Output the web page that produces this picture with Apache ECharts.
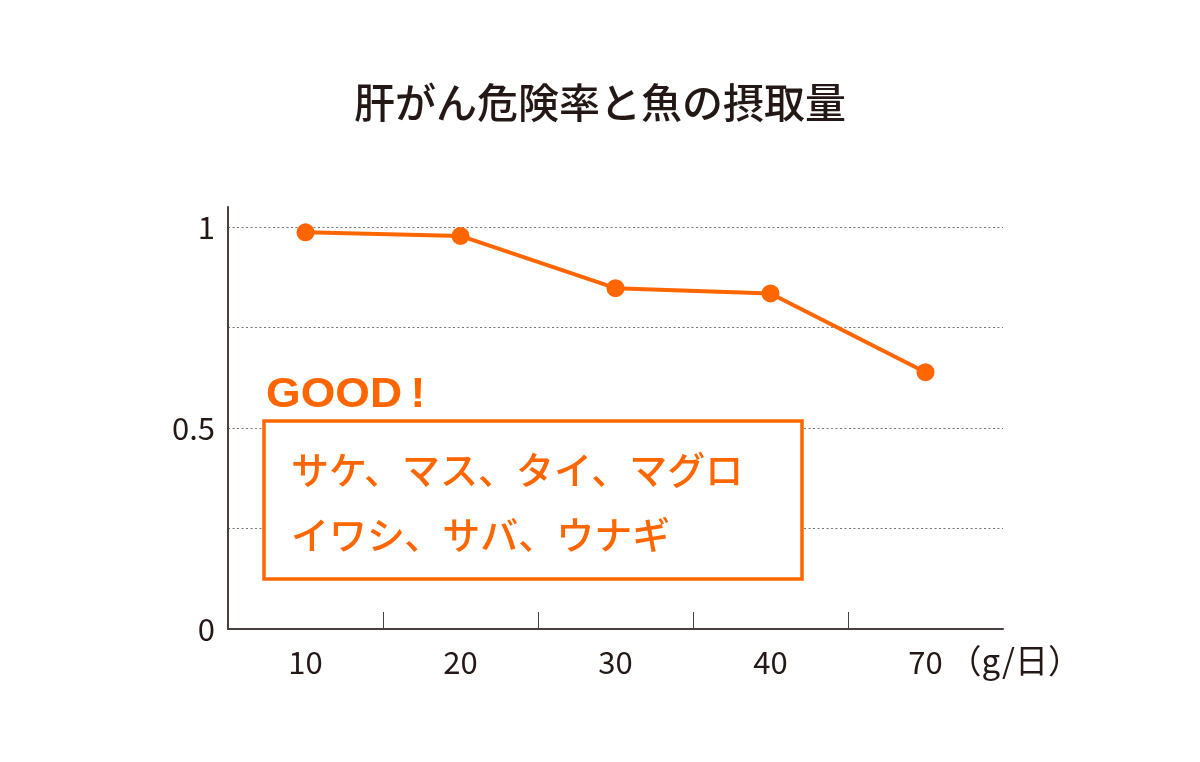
<!DOCTYPE html>
<html>
<head>
<meta charset="utf-8">
<script src="https://cdn.jsdelivr.net/npm/echarts@6/dist/echarts.min.js"></script>
<style>
html,body{margin:0;padding:0;background:#fff;}
#c{width:1200px;height:762px;}
</style>
</head>
<body>
<div id="c"></div>
<script>
const titleText = '肝がん危険率と魚の摂取量';
const categories = ['10', '20', '30', '40', '70'];
const riskValues = [0.987, 0.978, 0.848, 0.835, 0.639];
const yTickLabels = {0: '0', 0.5: '0.5', 1: '1'};
const unitLabel = '（g/日）';
const goodWord = 'GOOD';
const goodMark = '!';
const fishLines = ['サケ、マス、タイ、マグロ', 'イワシ、サバ、ウナギ'];

// boundary slots between categories (used only to place the x-axis ticks)
const tickSlots = categories.map(function () { return ''; }).concat(['']);

const ORANGE = '#ff6600';
const INK = '#231815';
const AXIS = '#4a4040';
const FONT = '"Noto Sans CJK JP", "Noto Sans", sans-serif';

const chart = echarts.init(document.getElementById('c'), null, {renderer: 'canvas'});
chart.setOption({
  backgroundColor: '#ffffff',
  animation: false,
  title: {
    text: titleText,
    left: 'center',
    top: 77,
    textStyle: {fontFamily: FONT, fontSize: 41, fontWeight: 500, color: INK}
  },
  grid: {left: 228, right: 197, top: 207, bottom: 133, containLabel: false},
  xAxis: [{
    type: 'category',
    data: categories,
    boundaryGap: true,
    name: unitLabel,
    nameLocation: 'end',
    nameGap: -57,
    nameTextStyle: {
      fontFamily: FONT, fontSize: 33, color: INK,
      align: 'left', verticalAlign: 'top', padding: [15, 0, 0, 0]
    },
    axisLine: {show: true, lineStyle: {color: AXIS, width: 2}},
    axisTick: {show: false},
    axisLabel: {fontFamily: FONT, fontSize: 31, color: INK, margin: 18},
    splitLine: {show: false}
  }, {
    type: 'category',
    data: tickSlots,
    boundaryGap: false,
    position: 'bottom',
    axisLine: {show: false},
    axisLabel: {show: false},
    axisTick: {
      show: true, inside: true, length: 17,
      interval: function (idx) { return idx > 0 && idx < tickSlots.length - 1; },
      lineStyle: {color: AXIS, width: 1}
    },
    splitLine: {show: false}
  }],
  yAxis: {
    type: 'value',
    min: 0,
    max: 1.05,
    interval: 0.25,
    axisLine: {show: true, lineStyle: {color: AXIS, width: 2}},
    axisTick: {show: false},
    axisLabel: {
      fontFamily: FONT, fontSize: 31, color: INK, margin: 13,
      showMaxLabel: false,
      formatter: function (v) {
        const k = Math.round(v * 100) / 100;
        return yTickLabels[k] !== undefined ? yTickLabels[k] : '';
      }
    },
    splitLine: {
      show: true,
      showMinLine: false,
      showMaxLine: false,
      lineStyle: {color: '#777777', width: 1, type: [2, 2.5]}
    }
  },
  series: [{
    type: 'line',
    xAxisIndex: 0,
    data: riskValues,
    symbol: 'circle',
    symbolSize: 18,
    lineStyle: {color: ORANGE, width: 4},
    itemStyle: {color: ORANGE},
    z: 5
  }],
  graphic: [
    {
      type: 'rect',
      shape: {x: 264, y: 421, width: 538, height: 158},
      style: {fill: '#ffffff', stroke: ORANGE, lineWidth: 3.5},
      z: 10
    },
    {
      type: 'text',
      x: 266, y: 395,
      scaleX: 1.06,
      style: {
        text: '{g|' + goodWord + '}{e|' + goodMark + '}',
        verticalAlign: 'middle',
        rich: {
          g: {fill: ORANGE, fontSize: 42, fontWeight: 'bold', fontFamily: '"Liberation Sans", Arial, sans-serif'},
          e: {fill: ORANGE, fontSize: 42, fontWeight: 'bold', fontFamily: '"Liberation Sans", Arial, sans-serif', padding: [0, 0, 0, 8]}
        }
      },
      z: 11
    },
    {
      type: 'text',
      x: 291, y: 470,
      style: {
        text: fishLines[0], fill: ORANGE,
        font: '500 38px ' + FONT,
        verticalAlign: 'middle'
      },
      z: 11
    },
    {
      type: 'text',
      x: 291, y: 535,
      style: {
        text: fishLines[1], fill: ORANGE,
        font: '500 38px ' + FONT,
        verticalAlign: 'middle'
      },
      z: 11
    }
  ]
});
</script>
</body>
</html>
